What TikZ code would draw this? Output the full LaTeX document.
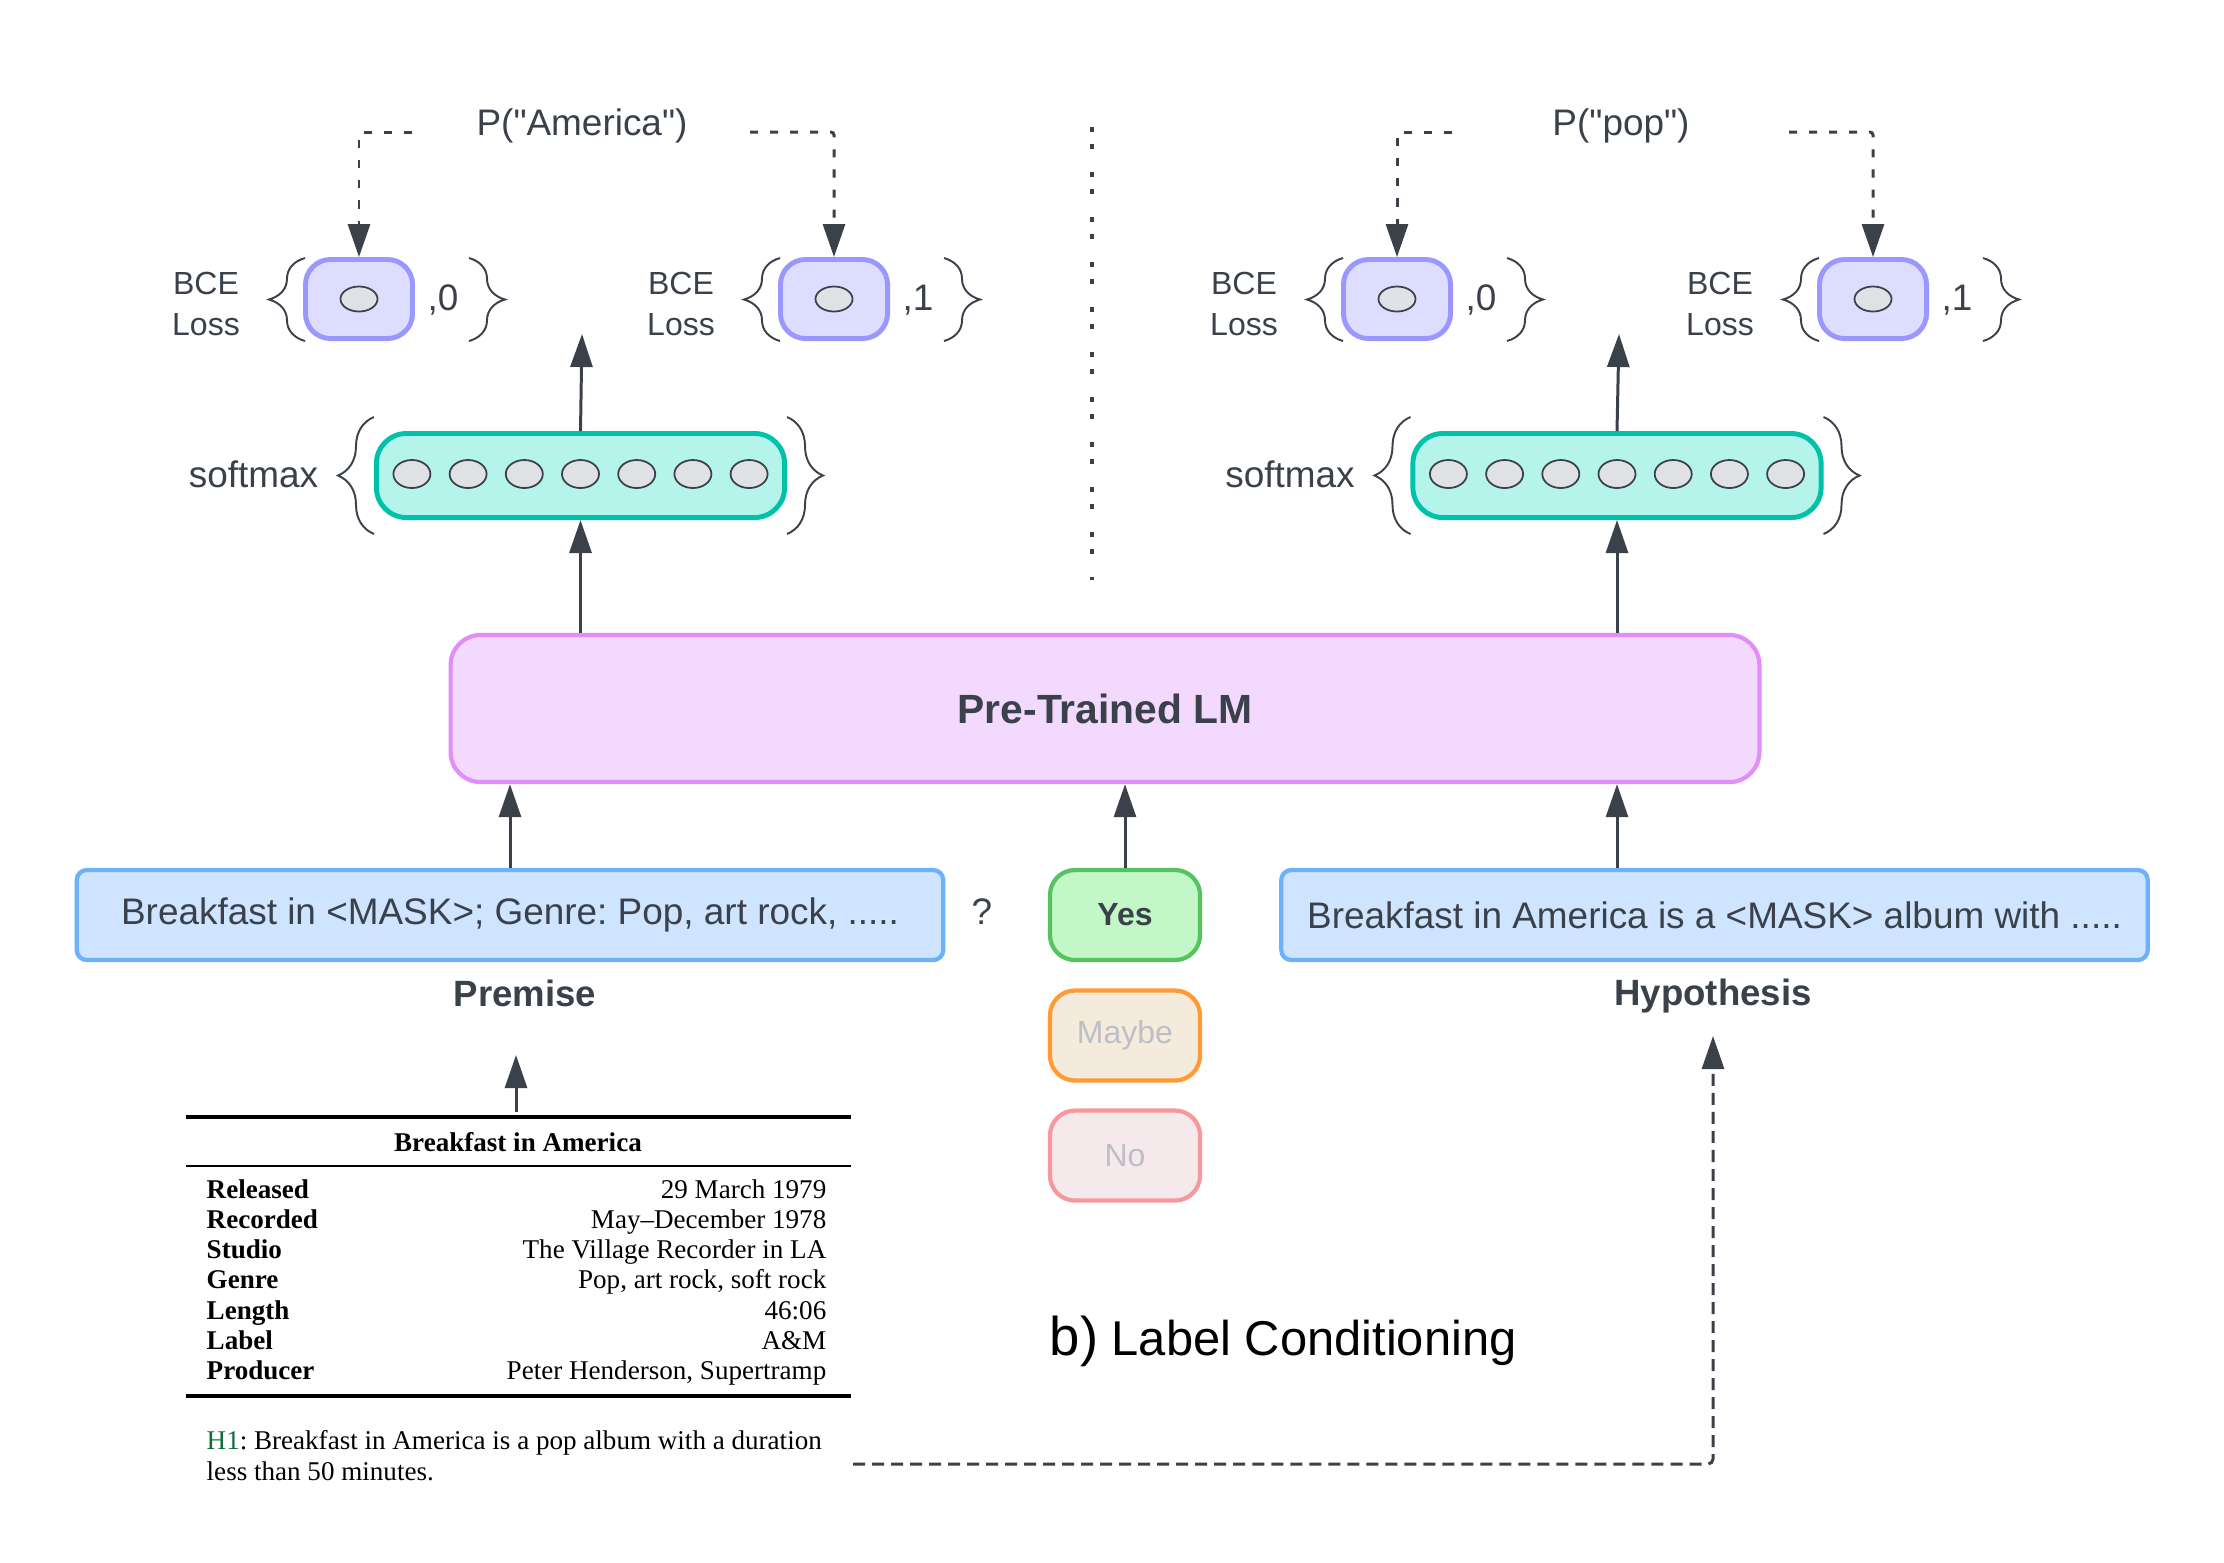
\documentclass[tikz,border=0pt]{standalone}
\usepackage{fontspec}
\setmainfont{Liberation Sans}
\newfontfamily\tabfont{Liberation Serif}
\newfontfamily\quotefont{Liberation Sans}
\usetikzlibrary{arrows.meta,decorations.pathreplacing}
\frenchspacing

\definecolor{ink}{HTML}{3A414A}
\definecolor{lmfill}{HTML}{F3D9FD}
\definecolor{lmline}{HTML}{E08EF9}
\definecolor{smfill}{HTML}{B5F4EA}
\definecolor{smline}{HTML}{00C2A8}
\definecolor{bcefill}{HTML}{DDDEFF}
\definecolor{bceline}{HTML}{9A97FF}
\definecolor{ovfill}{HTML}{DFE1E5}
\definecolor{txtfill}{HTML}{CFE4FF}
\definecolor{txtline}{HTML}{6DB1FC}
\definecolor{yesfill}{HTML}{C3F7C8}
\definecolor{yesline}{HTML}{54C45E}
\definecolor{mayfill}{HTML}{F5EBDD}
\definecolor{mayline}{HTML}{FF9B35}
\definecolor{nofill}{HTML}{F5E9EB}
\definecolor{noline}{HTML}{F7999C}
\definecolor{faded}{HTML}{BCC0C6}
\definecolor{hgreen}{HTML}{0F6E3A}

\begin{document}
\begin{tikzpicture}[x=0.01cm,y=0.01cm,
  every node/.style={inner sep=0pt, text=ink},
  arr/.style={ink, line width=0.85pt, -{Triangle[length=0.33cm,width=0.22cm]}},
  dots/.style={arr, dash pattern=on 0.08cm off 0.12cm, rounded corners=0.03cm},
  brc/.style={ink, line width=0.55pt, decorate, decoration={brace,amplitude=0.36cm}},
  big/.style={font=\fontsize{10.5}{12.6}\selectfont},
  small/.style={font=\fontsize{9.1}{11.4}\selectfont},
  tab/.style={font=\tabfont\fontsize{7.7}{8.5}\selectfont, text=black},
  bcebox/.style={draw=bceline, fill=bcefill, line width=1.4pt, rounded corners=0.25cm, minimum width=1.07cm, minimum height=0.79cm},
  smbox/.style={draw=smline, fill=smfill, line width=1.4pt, rounded corners=0.3cm, minimum width=4.08cm, minimum height=0.84cm},
  txtbox/.style={draw=txtline, fill=txtfill, line width=1.2pt, rounded corners=0.1cm, minimum width=8.66cm, minimum height=0.9cm, big},
  lblbox/.style={line width=1.2pt, rounded corners=0.25cm, minimum width=1.5cm, minimum height=0.9cm, small},
  oval/.style={draw=ink, fill=ovfill, line width=0.5pt}
]
\useasboundingbox (0,0) rectangle (2224,-1562);

% loss heads
\foreach \c/\n/\v in {359/1/0, 834/2/1, 1397/3/0, 1873/4/1} {
  \node[bcebox] (bce\n) at (\c,-299) {};
  \draw[oval] (bce\n) ellipse (0.185cm and 0.125cm);
  \node[small, align=center] (loss\n) at (\c-153,-304) {BCE\\Loss};
  \node[big] (tgt\n) at (\c+84,-300) {,\v};
  \draw[brc] (\c-54,-341) -- (\c-54,-258);
  \draw[brc] (\c+110,-258) -- (\c+110,-341);
}

% softmax vectors
\foreach \c/\n in {580.5/1, 1617/2} {
  \node[smbox] (sm\n) at (\c,-475.5) {};
  \foreach \k in {-3,...,3}
    \draw[oval] (\c+56.2*\k,-474) ellipse (0.185cm and 0.14cm);
  \node[big] (smlbl\n) at (\c-327,-474) {softmax};
  \draw[brc] (\c-206.5,-534) -- (\c-206.5,-417);
  \draw[brc] (\c+206.5,-417) -- (\c+206.5,-534);
}

% probabilities
\node[font=\quotefont\fontsize{10.5}{12.6}\selectfont] (pam) at (582,-126) {P("America")};
\node[font=\quotefont\fontsize{10.5}{12.6}\selectfont] (ppop) at (1621,-126) {P("pop")};
\coordinate (pl1) at (412,-132);
\coordinate (pr1) at (750,-132);
\coordinate (pl2) at (1452,-132);
\coordinate (pr2) at (1789,-132);
\draw[dots] (pl1) -| (bce1.north);
\draw[dots] (pr1) -| (bce2.north);
\draw[dots] (pl2) -| (bce3.north);
\draw[dots] (pr2) -| (bce4.north);

\draw[ink, line width=1.4pt, dash pattern=on 0.05cm off 0.12cm on 0.05cm off 0.23cm] (1092,-127) -- (1092,-580);

% language model
\node[draw=lmline, fill=lmfill, line width=1.2pt, rounded corners=0.3cm, minimum width=13.08cm, minimum height=1.47cm, font=\bfseries\fontsize{11.6}{14}\selectfont] (lm) at (1105,-708.5) {Pre-Trained LM};

\coordinate (up1) at (582,-334);
\coordinate (up2) at (1619,-334);
\draw[arr] (sm1.north) -- (up1);
\draw[arr] (sm2.north) -- (up2);
\draw[arr] (lm.north -| sm1.south) -- (sm1.south);
\draw[arr] (lm.north -| sm2.south) -- (sm2.south);

% inputs
\node[txtbox] (prem) at (510,-915) {Breakfast in <MASK>; Genre: Pop, art rock, .....};
\node[txtbox] (hyp) at (1714.5,-915) {Breakfast in America is a <MASK> album with .....};
\node[big] (qm) at (982,-912) {?};
\node[lblbox, draw=yesline, fill=yesfill, font=\bfseries\fontsize{9.1}{11}\selectfont] (yes) at (1125,-915) {Yes};
\node[lblbox, draw=mayline, fill=mayfill, text=faded] (maybe) at (1125,-1035.5) {Maybe};
\node[lblbox, draw=noline, fill=nofill, text=faded] (no) at (1125,-1155.5) {No};
\node[font=\bfseries\fontsize{10.4}{12}\selectfont] (premlbl) at (525,-993) {Premise};
\node[font=\bfseries\fontsize{10.4}{12}\selectfont] (hyplbl) at (1713,-996) {Hypothesis};

\draw[arr] (prem.north) -- (prem.north |- lm.south);
\draw[arr] (yes.north) -- (yes.north |- lm.south);
\draw[arr] (hyp.north -| sm2.south) -- (lm.south -| sm2.south);

% table
\draw[line width=1pt] (186,-1117) -- (851,-1117);
\node[tab, anchor=base, font=\tabfont\bfseries\fontsize{7.7}{8.5}\selectfont] (tabtitle) at (518,-1151) {Breakfast in America};
\draw[line width=0.6pt] (186,-1166) -- (851,-1166);
\foreach \k/\a/\b in {0/Released/29 March 1979, 1/Recorded/May\textendash December 1978,
    2/Studio/The Village Recorder in LA, 3/Genre/{Pop, art rock, soft rock},
    4/Length/46:06, 5/Label/A\&M, 6/Producer/{Peter Henderson, Supertramp}} {
  \node[tab, anchor=base west] (key\k) at (206,-1198-30.3*\k) {\textbf{\a}};
  \node[tab, anchor=base east] (val\k) at (827,-1198-30.3*\k) {\b};
}
\draw[line width=1pt] (186,-1396) -- (851,-1396);
\node[tab, anchor=base west] (h1a) at (206,-1449) {\textcolor{hgreen}{H1}: Breakfast in America is a pop album with a duration};
\node[tab, anchor=base west] (h1b) at (206,-1480) {less than 50 minutes.};

\coordinate (tabtop) at (516,-1112);
\coordinate (premtip) at (516,-1055);
\draw[arr] (tabtop) -- (premtip);
\coordinate (h1out) at (853,-1464);
\coordinate (hyptip) at (1713,-1036);
\draw[arr, dash pattern=on 0.12cm off 0.07cm, rounded corners=0.05cm] (h1out) -| (hyptip);

\node[anchor=west, text=black, font=\fontsize{13.9}{16}\selectfont] (cap) at (1049,-1341) {{\fontsize{15.5}{18}\selectfont b)} Label Conditioning};
\end{tikzpicture}
\end{document}
